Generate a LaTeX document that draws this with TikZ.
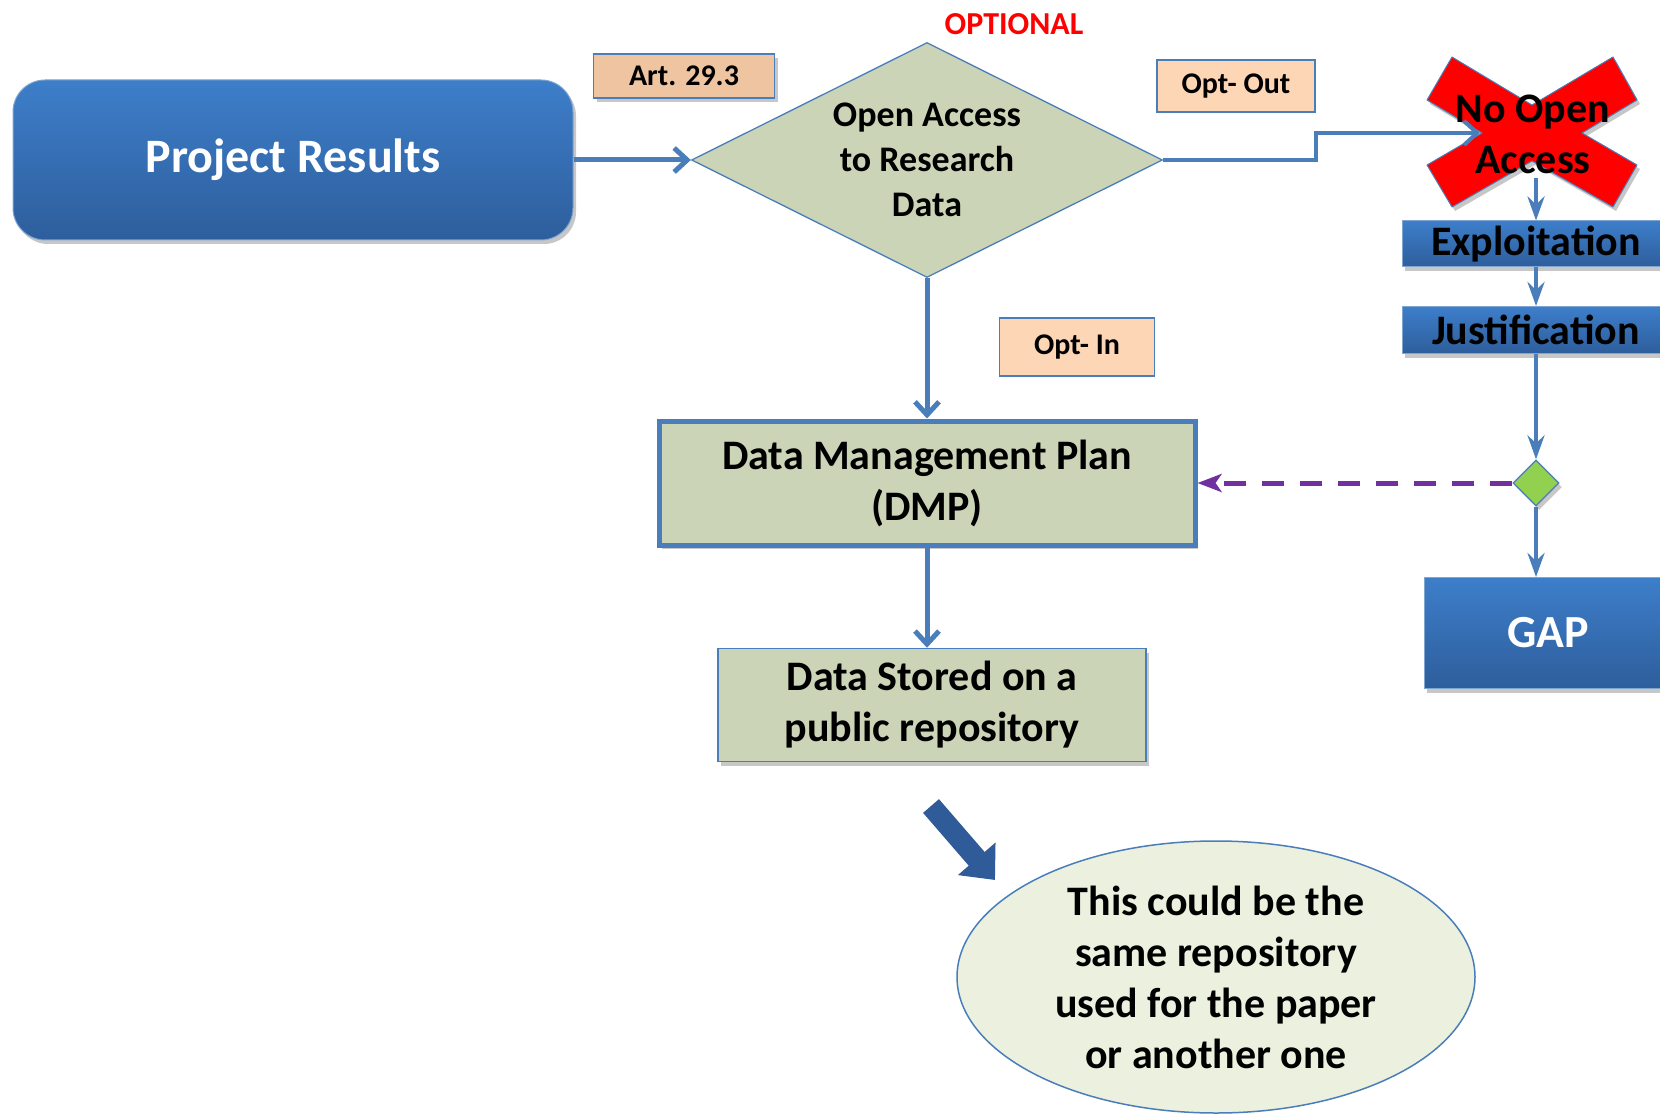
\documentclass[tikz,border=0pt]{standalone}
\usepackage{fontspec}
\setmainfont{Carlito}
\usetikzlibrary{arrows.meta,shapes.geometric,shadows}
\definecolor{flowblue}{RGB}{74,126,187}
\definecolor{boxtop}{RGB}{61,126,202}
\definecolor{boxbot}{RGB}{46,94,156}
\definecolor{sage}{RGB}{203,212,182}
\definecolor{notefill}{RGB}{235,241,222}
\definecolor{artpeach}{RGB}{238,196,161}
\definecolor{optpeach}{RGB}{252,214,181}
\definecolor{dmpviolet}{RGB}{112,48,160}
\definecolor{gategreen}{RGB}{146,208,80}
\definecolor{arrowdark}{RGB}{47,92,152}
\tikzset{
  psh/.style={drop shadow={shadow xshift=3pt, shadow yshift=-4pt, fill=black, opacity=0.22}},
  bluebox/.style={rectangle, draw=flowblue!70, line width=1pt, top color=boxtop,
                  bottom color=boxbot, inner sep=0pt, psh},
  resultbox/.style={bluebox, rounded corners=32pt, text=white,
                    font=\fontsize{48}{57}\selectfont\bfseries},
  stepbox/.style={bluebox, text=black, font=\fontsize{42}{50}\selectfont\bfseries},
  gapbox/.style={bluebox, text=white, font=\fontsize{46}{55}\selectfont\bfseries},
  decide/.style={diamond, aspect=2, draw=flowblue, line width=1.3pt, fill=sage, inner sep=0pt,
                 align=center, font=\fontsize{36}{45}\selectfont\bfseries},
  tagbox/.style={rectangle, draw=flowblue, line width=1.5pt, fill=optpeach, inner sep=0pt,
                 font=\fontsize{30}{36}\selectfont\bfseries},
  planbox/.style={rectangle, draw=flowblue, fill=sage, align=center, inner sep=0pt, psh,
                  font=\fontsize{42}{51}\selectfont\bfseries},
  noteshape/.style={ellipse, draw=flowblue, line width=1.5pt, fill=notefill, align=center,
                    inner sep=0pt, font=\fontsize{42}{51}\selectfont\bfseries},
  crossx/.style={fill=red, draw=flowblue, line width=1pt, line join=round, psh},
  crosstext/.style={align=center, inner sep=0pt, font=\fontsize{42}{51}\selectfont\bfseries},
  gatebox/.style={diamond, draw=flowblue, line width=1.3pt, fill=gategreen, inner sep=0pt,
                  minimum width=46pt, minimum height=46pt, psh},
  flow/.style={-{Straight Barb[length=13pt, width=24pt]}, line width=5pt, flowblue},
  flowdn/.style={-{Stealth[length=24pt, width=17pt, inset=8pt]}, line width=4pt, flowblue},
  linkdash/.style={-{Stealth[length=24pt, width=18pt, inset=6pt]}, line width=5pt, dmpviolet,
                   dash pattern=on 22pt off 16pt},
  bigarrow/.style={-{Triangle[length=28pt, width=48pt]}, line width=21pt, arrowdark},
}
\begin{document}
\begin{tikzpicture}[x=1pt, y=-1pt]
\useasboundingbox (0,0) rectangle (1660,1115);
% main column
\node[resultbox, minimum width=560pt, minimum height=160pt] (proj) at (293,160) {Project Results};
\node[decide, minimum width=471pt, minimum height=235pt] (oard) at (927,160) {Open Access\\to Research\\Data};
\node[font=\fontsize{32}{38}\selectfont\bfseries, text=red] (optl) at (1014,24) {OPTIONAL};
\node[tagbox, fill=artpeach, psh, minimum width=181pt, minimum height=44pt] (art) at (684,76) {Art. 29.3};
\node[tagbox, minimum width=158pt, minimum height=52pt] (optout) at (1236,86) {Opt- Out};
\node[tagbox, minimum width=155pt, minimum height=58pt] (optin) at (1077,347) {Opt- In};
\node[planbox, line width=5pt, minimum width=536pt, minimum height=124pt] (dmp) at (927,483) {Data Management Plan\\(DMP)};
\node[planbox, line width=1.5pt, minimum width=428pt, minimum height=113pt] (stored) at (932,705) {Data Stored on a\\public repository};
\node[noteshape, minimum width=518pt, minimum height=272pt] (note) at (1216,977) {This could be the\\same repository\\used for the paper\\or another one};
\coordinate (batail) at (931,806);
\coordinate (bahead) at (995,880);
% opt-out column
\draw[crossx] (1427,100) -- (1452,57) -- (1532,105) -- (1613,57) -- (1637,100) -- (1582,133)
  -- (1637,165) -- (1613,207) -- (1532,161) -- (1452,207) -- (1427,165) -- (1482,133) -- cycle;
\node[crosstext] (noopen) at (1533,134) {No Open\\Access};
\coordinate (jog) at (1316,133);
\coordinate (xin) at (1480,133);
\coordinate (xout) at (1536,178);
\node[stepbox, minimum width=268pt, minimum height=46pt] (expl) at (1536,244) {Exploitation};
\node[stepbox, minimum width=268pt, minimum height=47pt] (just) at (1536,330) {Justification};
\node[gatebox] (gate) at (1536,483) {};
\node[gapbox, minimum width=248pt, minimum height=111pt] (gap) at (1548,633) {GAP};
% connectors
\draw[flow] (proj) -- (oard);
\draw[flow, line width=4pt] (oard.east) -| (jog) -- (xin);
\draw[flow] (oard) -- (dmp);
\draw[flow] (dmp.south) -- (dmp.south |- stored.north);
\draw[flowdn] (xout) -- (expl);
\draw[flowdn] (expl) -- (just);
\draw[flowdn] (just) -- (gate);
\draw[flowdn] (gate) -- (gate |- gap.north);
\draw[linkdash] (gate) -- (dmp);
\draw[bigarrow] (batail) -- (bahead);
\end{tikzpicture}
\end{document}
